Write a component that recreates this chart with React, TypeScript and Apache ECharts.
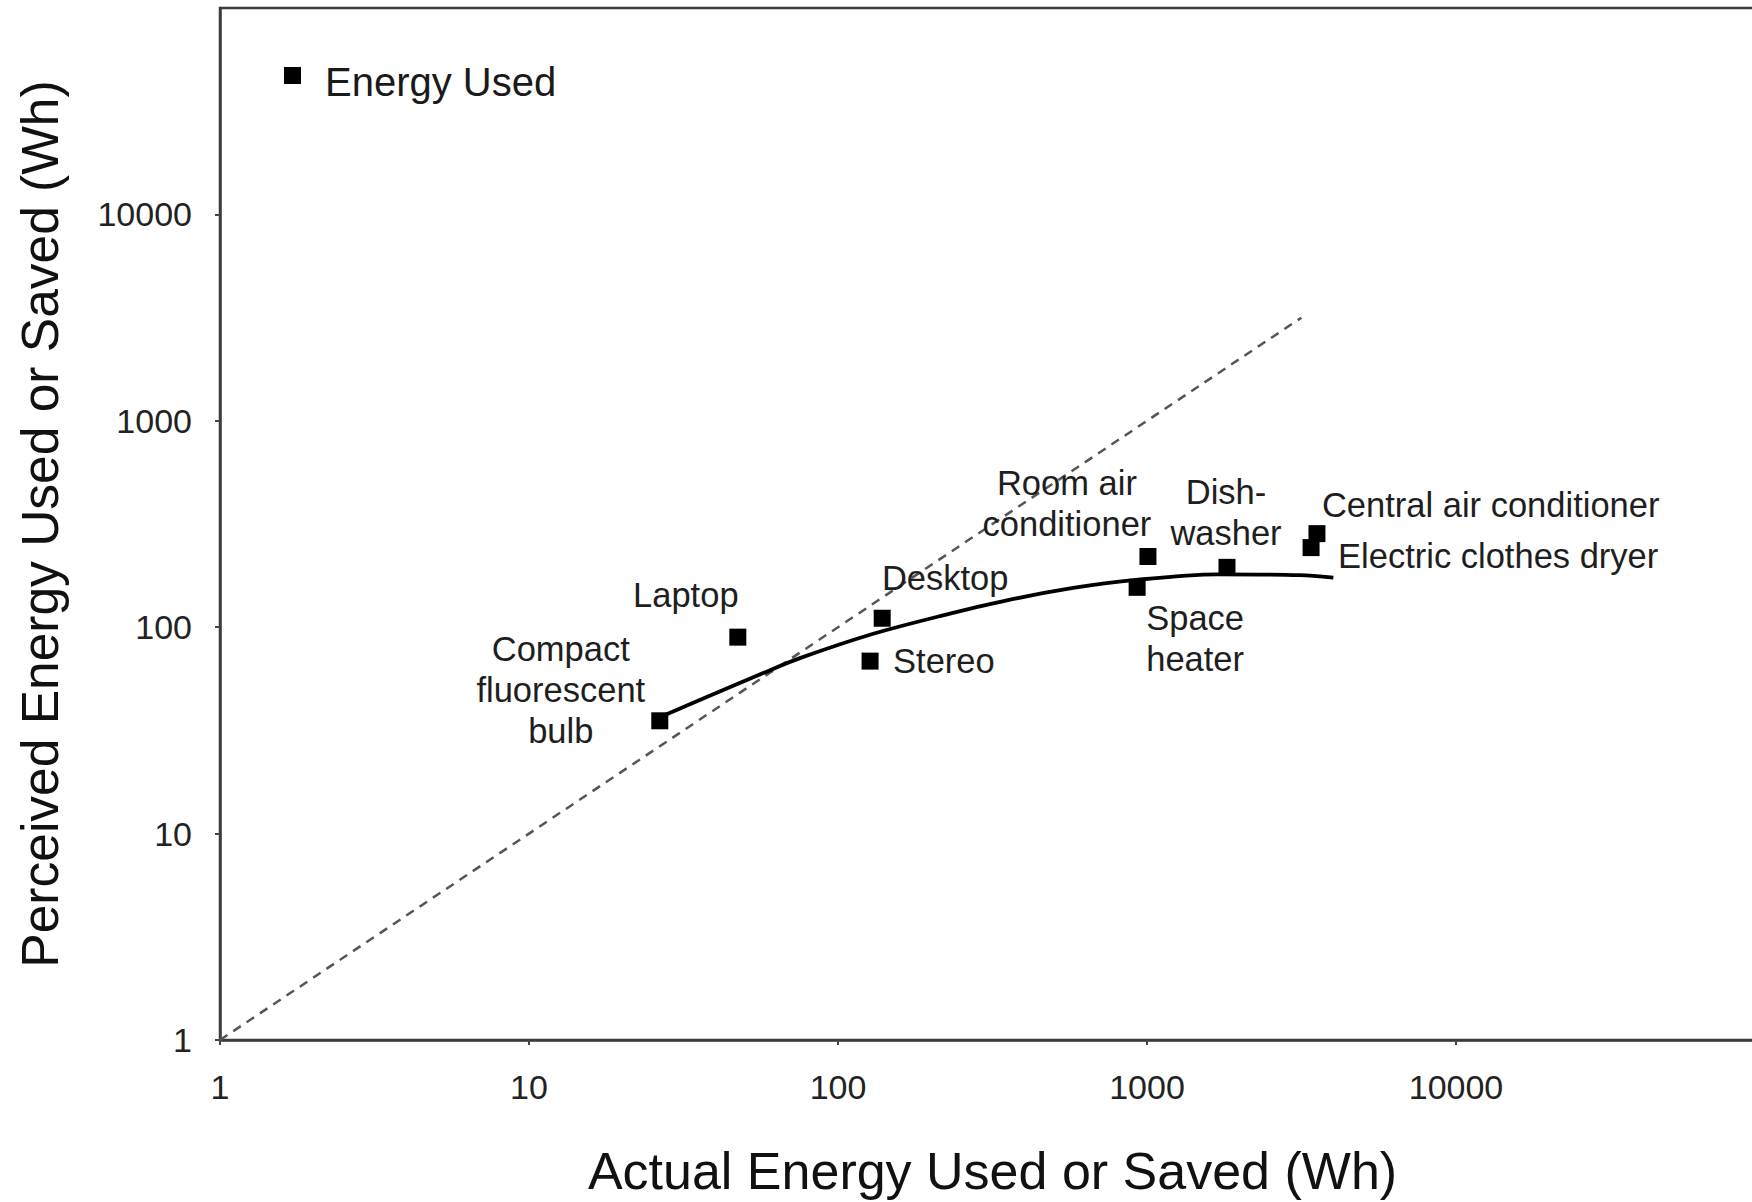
import React, { useEffect, useRef } from "react";
import * as echarts from "echarts";

// ---- Data ----
const appliances = [
  "Compact fluorescent bulb",
  "Laptop",
  "Stereo",
  "Desktop",
  "Space heater",
  "Room air conditioner",
  "Dishwasher",
  "Central air conditioner",
  "Electric clothes dryer",
];
const labelTexts = [
  "Compact\nfluorescent\nbulb",
  "Laptop",
  "Stereo",
  "Desktop",
  "Space\nheater",
  "Room air\nconditioner",
  "Dish-\nwasher",
  "Central air conditioner",
  "Electric clothes dryer",
];
const actualWh = [26.5, 47.4, 127, 139, 929, 1007, 1815, 3548, 3396];
const perceivedWh = [35.2, 89.5, 68.5, 110.5, 156, 220, 195, 284, 243];

// fitted curve, points
const curveActual = [26.5, 37.6, 57.3, 75.3, 130, 214, 352, 577, 903, 1683, 3126, 4010];
const curvePerceived = [36.6, 45.9, 60.0, 70.8, 92.9, 113.2, 134.9, 154.9, 169.0, 180.3, 178.6, 173.8];

// identity (dashed) line end points
const identityActual = [1, 3160];
const identityPerceived = [1, 3160];

const xTickValues = [1, 10, 100, 1000, 10000];
const yTickValues = [1, 10, 100, 1000, 10000];

const legendName = "Energy Used";

// ---- label placement (styles only) ----
const labelPlacement: Record<string, { align: string; offset: number[] }> = {
  "Compact fluorescent bulb": { align: "center", offset: [-99, -31] },
  Laptop: { align: "center", offset: [-52, -42] },
  Stereo: { align: "left", offset: [23, 0] },
  Desktop: { align: "center", offset: [63, -40] },
  "Space heater": { align: "center", offset: [58, 51] },
  "Room air conditioner": { align: "center", offset: [-81, -53] },
  Dishwasher: { align: "center", offset: [-1, -55] },
  "Central air conditioner": { align: "left", offset: [5, -29] },
  "Electric clothes dryer": { align: "left", offset: [27, 8] },
};

const FONT = "'Liberation Sans', Arial, Helvetica, sans-serif";

export default function App() {
  const ref = useRef<HTMLDivElement>(null);
  useEffect(() => {
    const chart = echarts.init(ref.current!, null, { renderer: "svg" });
    const scatterData = appliances.map((name, i) => {
      const p = labelPlacement[name];
      return {
        name,
        value: [actualWh[i], perceivedWh[i]],
        label: {
          show: true,
          formatter: labelTexts[i],
          position: "inside",
          align: p.align,
          verticalAlign: "middle",
          offset: p.offset,
        },
      };
    });
    const axisCommon = {
      type: "log",
      logBase: 10,
      min: 1,
      max: 100000,
      axisLine: { show: true, lineStyle: { color: "#3c3c3c", width: 2.5 } },
      axisTick: { show: true, length: 5, inside: false, lineStyle: { color: "#444", width: 2 } },
      splitLine: { show: false },
      minorTick: { show: false },
      nameLocation: "middle",
      nameTextStyle: { fontSize: 52, color: "#111", fontFamily: FONT },
    };
    chart.setOption({
      animation: false,
      backgroundColor: "#fff",
      grid: {
        left: 220,
        top: 8,
        width: 1545,
        height: 1034,
        show: true,
        borderColor: "#3c3c3c",
        borderWidth: 2.5,
        backgroundColor: "transparent",
      },
      graphic: [
        {
          type: "rect",
          left: 284,
          top: 67,
          shape: { width: 17, height: 17 },
          style: { fill: "#000" },
        },
        {
          type: "text",
          left: 325,
          top: 62,
          style: {
            text: legendName,
            fontSize: 40,
            fill: "#1a1a1a",
            fontFamily: FONT,
          },
        },
      ],
      xAxis: {
        ...axisCommon,
        name: "Actual Energy Used or Saved (Wh)",
        nameGap: 105,
        axisLabel: {
          fontSize: 34,
          color: "#222",
          fontFamily: FONT,
          margin: 30,
          showMaxLabel: false,
          formatter: (v: number) => (xTickValues.includes(v) ? String(v) : ""),
        },
      },
      yAxis: {
        ...axisCommon,
        name: "Perceived Energy Used or Saved (Wh)",
        nameGap: 154,
        nameTextStyle: { fontSize: 51.5, color: "#111", fontFamily: FONT },
        axisLabel: {
          fontSize: 34,
          color: "#222",
          fontFamily: FONT,
          margin: 28,
          showMaxLabel: false,
          formatter: (v: number) => (yTickValues.includes(v) ? String(v) : ""),
        },
      },
      series: [
        {
          type: "line",
          name: "identity",
          data: identityActual.map((x, i) => [x, identityPerceived[i]]),
          symbol: "none",
          silent: true,
          lineStyle: { color: "#555", width: 2.5, type: [9, 7] },
          z: 1,
        },
        {
          type: "line",
          name: "fit",
          data: curveActual.map((x, i) => [x, curvePerceived[i]]),
          smooth: 0.3,
          symbol: "none",
          silent: true,
          lineStyle: { color: "#000", width: 3.8 },
          z: 2,
        },
        {
          type: "scatter",
          name: legendName,
          symbol: "rect",
          symbolSize: 17,
          itemStyle: { color: "#000", opacity: 1 },
          label: {
            fontSize: 34.5,
            color: "#1e1e1e",
            fontFamily: FONT,
            lineHeight: 41,
          },
          data: scatterData,
          z: 3,
        },
      ],
    });
    return () => chart.dispose();
  }, []);
  return (
    <div
      style={{
        position: "fixed",
        left: 0,
        top: 0,
        width: 1752,
        height: 1202,
        overflow: "hidden",
        background: "#fff",
      }}
    >
      <div ref={ref} style={{ width: 1780, height: 1202 }} />
    </div>
  );
}
